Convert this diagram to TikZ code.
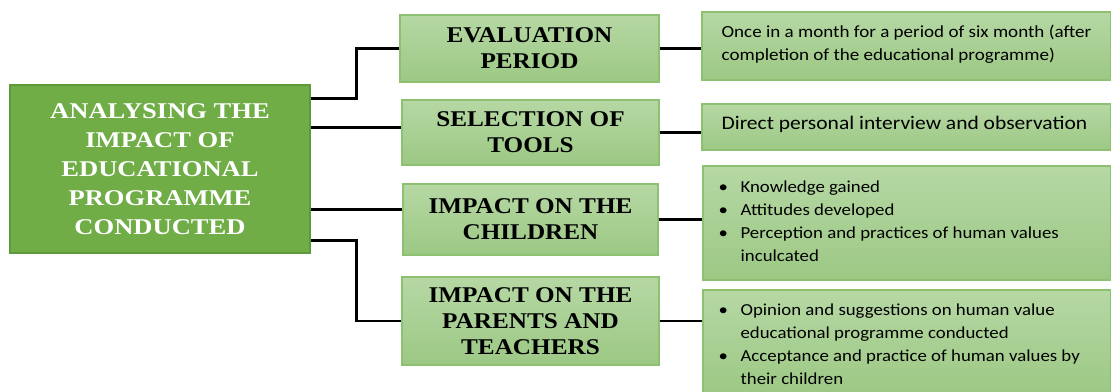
\documentclass[tikz,border=0pt]{standalone}
\usepackage{fontspec}
\setmainfont{Liberation Serif}
\newfontfamily\midserif[FakeStretch=1.12]{Liberation Serif}
\newfontfamily\mainserif[FakeStretch=1.18]{Liberation Serif}
\newfontfamily\calib[FakeStretch=1.12]{Carlito}
\usetikzlibrary{calc}
\definecolor{mainGreen}{HTML}{70AD47}
\definecolor{mainBorder}{HTML}{5E9A3C}
\definecolor{lightTop}{HTML}{B6D8A4}
\definecolor{lightBot}{HTML}{9CC884}
\definecolor{lightBorder}{HTML}{8DC070}
\tikzset{
  lbox/.style={rectangle, draw=lightBorder, line width=1.2pt, top color=lightTop, bottom color=lightBot, inner sep=0pt},
  midtext/.style={font=\midserif\fontsize{22.5}{26}\selectfont\bfseries, align=center, text=black},
  righttext/.style={align=left, text=black, inner sep=0pt},
  conn/.style={draw=black, line width=2.6pt}
}
\newcommand{\bitem}[1]{\makebox[22pt][l]{\textbullet}#1}
\newcommand{\bcont}[1]{\hspace*{22pt}#1}
\begin{document}
\begin{tikzpicture}[x=1pt,y=-1pt]
\useasboundingbox (0,0) rectangle (1111,391);
\fill[white] (0,0) rectangle (1111,391);
\begin{scope}
\clip (0,0) rectangle (1111,391);
% main box
\node[rectangle, draw=mainBorder, line width=1.2pt, fill=mainGreen, minimum width=300pt, minimum height=168pt, inner sep=0pt,
  font=\mainserif\fontsize{22.5}{29}\selectfont\bfseries, text=white, align=center] (main) at (160,169)
  {ANALYSING THE\\IMPACT OF\\EDUCATIONAL\\PROGRAMME\\CONDUCTED};
% middle boxes
\node[lbox, minimum width=259pt, minimum height=67pt, midtext] (b1) at (529.5,48.5) {EVALUATION\\PERIOD};
\node[lbox, minimum width=257pt, minimum height=65pt, midtext] (b2) at (530.5,132.5) {SELECTION OF\\TOOLS};
\node[lbox, minimum width=255pt, minimum height=71pt, midtext] (b3) at (530.5,219.5) {IMPACT ON THE\\CHILDREN};
\node[lbox, minimum width=257pt, minimum height=88pt, midtext] (b4) at (530.5,321) {IMPACT ON THE\\PARENTS AND\\TEACHERS};
% right boxes
\node[lbox, minimum width=409pt, minimum height=68pt] (r1) at (906.5,46) {};
\node[righttext, font=\calib\fontsize{17}{23}\selectfont, anchor=west] (t1) at ($(r1.west)+(20,-2)$)
  {Once in a month for a period of six month (after\\completion of the educational programme)};
\node[lbox, minimum width=409pt, minimum height=46pt] (r2) at (906.5,127) {};
\node[righttext, font=\calib\fontsize{19.2}{24}\selectfont, anchor=west] (t2) at ($(r2.west)+(20,-3)$)
  {Direct personal interview and observation};
\node[lbox, minimum width=408pt, minimum height=114pt] (r3) at (907,223) {};
\node[righttext, font=\calib\fontsize{16.8}{23}\selectfont, anchor=west] (t3) at ($(r3.west)+(16,-2)$)
  {\bitem{Knowledge gained}\\\bitem{Attitudes developed}\\\bitem{Perception and practices of human values}\\\bcont{inculcated}};
\node[lbox, minimum width=408pt, minimum height=105pt] (r4) at (907,342.5) {};
\node[righttext, font=\calib\fontsize{16.8}{23}\selectfont, anchor=west] (t4) at ($(r4.west)+(16,2)$)
  {\bitem{Opinion and suggestions on human value}\\\bcont{educational programme conducted}\\\bitem{Acceptance and practice of human values by}\\\bcont{their children}};
\end{scope}
% connectors
\draw[conn] ($(main.north east)+(0,14)$) -- ++(46,0) |- (b1.west);
\draw[conn] ($(main.north east)+(0,43)$) -- (b2.west |- {$(main.north east)+(0,43)$});
\draw[conn] ($(main.north east)+(0,125)$) -- (b3.west |- {$(main.north east)+(0,125)$});
\draw[conn] ($(main.north east)+(0,156)$) -- ++(46,0) |- (b4.west);
\draw[conn] (b1.east) -- (r1.west |- b1.east);
\draw[conn] (b2.east) -- (r2.west |- b2.east);
\draw[conn] (b3.east) -- (r3.west |- b3.east);
\draw[conn] (b4.east) -- (r4.west |- b4.east);
\end{tikzpicture}
\end{document}
